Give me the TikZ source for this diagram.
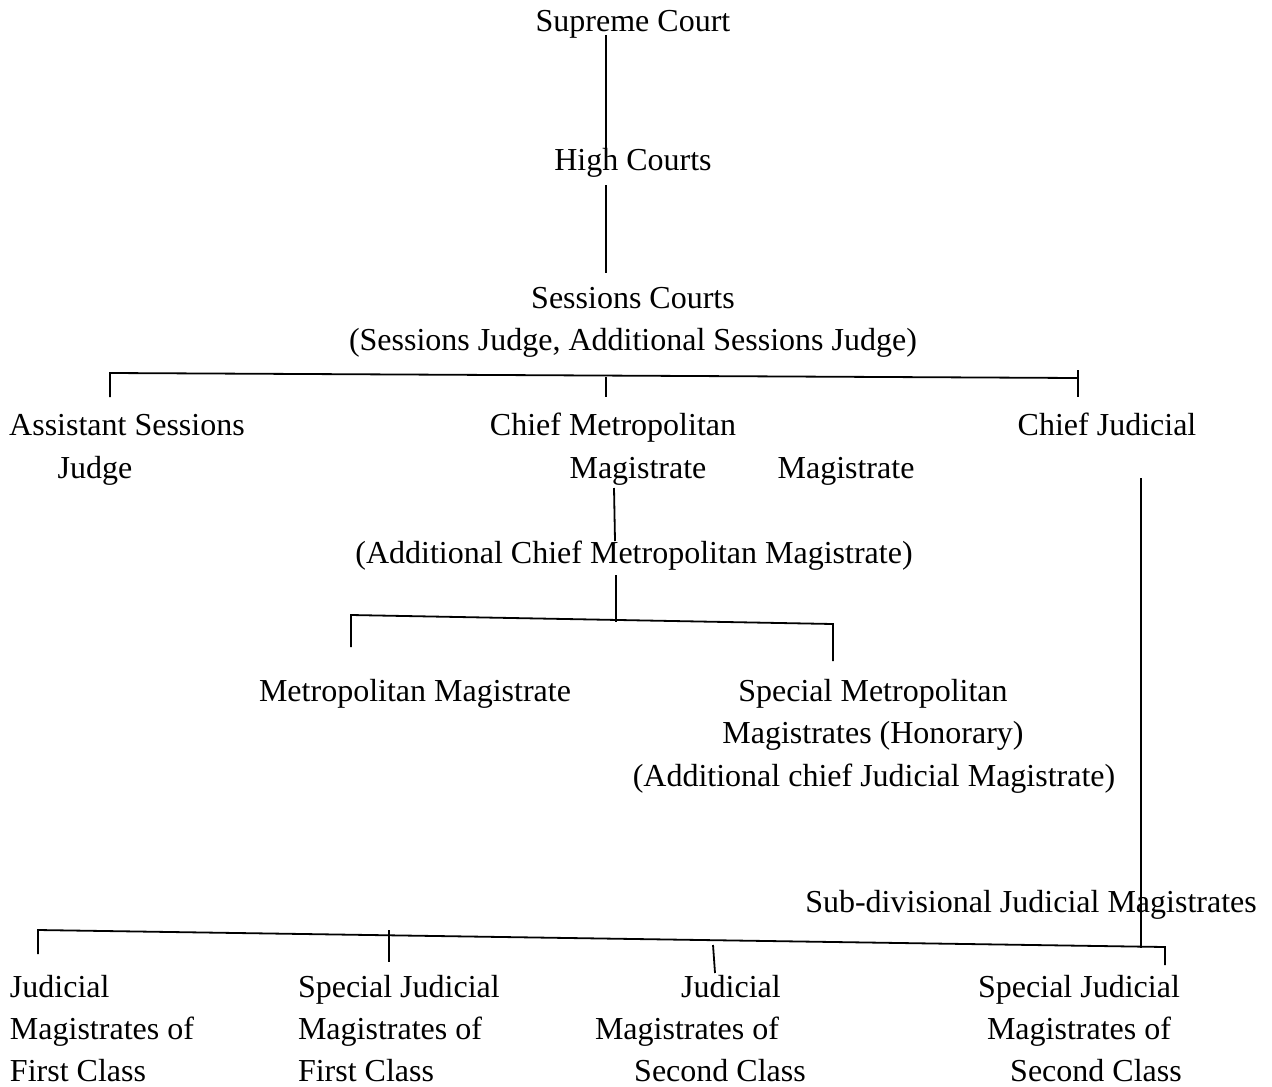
\documentclass[tikz,border=0pt]{standalone}
\usepackage{fontspec}
\setmainfont{Liberation Serif}
\begin{document}
\begin{tikzpicture}[x=0.5pt,y=-0.5pt,
  lbl/.style={font=\fontsize{16}{19}\selectfont, inner sep=0pt, outer sep=0pt, anchor=base},
  lblw/.style={lbl, anchor=base west},
  ln/.style={line width=0.9pt, line cap=butt}]
\useasboundingbox (0,0) rectangle (1272,1086);
% texts
\node[lbl] (sc) at (633,32) {Supreme Court};
\node[lbl] (hc) at (633,170) {High Courts};
\node[lbl] (ses) at (633,308) {Sessions Courts};
\node[lbl] (ses2) at (633,350) {(Sessions Judge, Additional Sessions Judge)};
\node[lbl] (asj1) at (127,435) {Assistant Sessions};
\node[lbl] (asj2) at (95,478) {Judge};
\node[lbl] (cmm1) at (613,435) {Chief Metropolitan};
\node[lbl] (cmm2) at (638,478) {Magistrate};
\node[lbl] (cjm2) at (846,478) {Magistrate};
\node[lbl] (cjm1) at (1107,435) {Chief Judicial};
\node[lbl] (acmm) at (634,563) {(Additional Chief Metropolitan Magistrate)};
\node[lbl] (mm) at (415,701) {Metropolitan Magistrate};
\node[lbl] (smm1) at (873,701) {Special Metropolitan};
\node[lbl] (smm2) at (873,743) {Magistrates (Honorary)};
\node[lbl] (smm3) at (874,786) {(Additional chief Judicial Magistrate)};
\node[lbl] (sdjm) at (1031,912) {Sub-divisional Judicial Magistrates};
\node[lblw] (jfa) at (10,997) {Judicial};
\node[lblw] (jfb) at (10,1039) {Magistrates of};
\node[lblw] (jfc) at (10,1081) {First Class};
\node[lblw] (sfa) at (298,997) {Special Judicial};
\node[lblw] (sfb) at (298,1039) {Magistrates of};
\node[lblw] (sfc) at (298,1081) {First Class};
\node[lbl] (jsa) at (731,997) {Judicial};
\node[lbl] (jsb) at (687,1039) {Magistrates of};
\node[lbl] (jsc) at (720,1081) {Second Class};
\node[lbl] (ssa) at (1079,997) {Special Judicial};
\node[lbl] (ssb) at (1079,1039) {Magistrates of};
\node[lbl] (ssc) at (1096,1081) {Second Class};
% connector points
\coordinate (a1) at (606,35);   \coordinate (a2) at (606,152);
\coordinate (b1) at (606,185);  \coordinate (b2) at (606,273);
\coordinate (sL) at (110,373);  \coordinate (sLd) at (110,397);
\coordinate (sR) at (1078,378); \coordinate (sRt) at (1078,370); \coordinate (sRd) at (1078,397);
\coordinate (sM) at (606,377);  \coordinate (sMd) at (606,397);
\coordinate (c1) at (614,488);  \coordinate (c2) at (615,541);
\coordinate (c3) at (616,575);  \coordinate (c4) at (616,622);
\coordinate (mL) at (351,615);  \coordinate (mLd) at (351,647);
\coordinate (mR) at (833,624);  \coordinate (mRd) at (833,661);
\coordinate (r1) at (1141,478); \coordinate (r2) at (1141,948);
\coordinate (bL) at (38,930);   \coordinate (bLd) at (38,954);
\coordinate (bR) at (1165,947); \coordinate (bRd) at (1165,965);
\coordinate (t1) at (389,930);  \coordinate (t1d) at (389,962);
\coordinate (t2) at (713,945);  \coordinate (t2d) at (715,973);
% connectors
\draw[ln] (a1) -- (a2);
\draw[ln] (b1) -- (b2);
\draw[ln] (sLd) -- (sL) -- (sR);
\draw[ln] (sRt) -- (sRd);
\draw[ln] (sM) -- (sMd);
\draw[ln] (c1) -- (c2);
\draw[ln] (c3) -- (c4);
\draw[ln] (mLd) -- (mL) -- (mR) -- (mRd);
\draw[ln] (r1) -- (r2);
\draw[ln] (bLd) -- (bL) -- (bR) -- (bRd);
\draw[ln] (t1) -- (t1d);
\draw[ln] (t2) -- (t2d);
\end{tikzpicture}
\end{document}
